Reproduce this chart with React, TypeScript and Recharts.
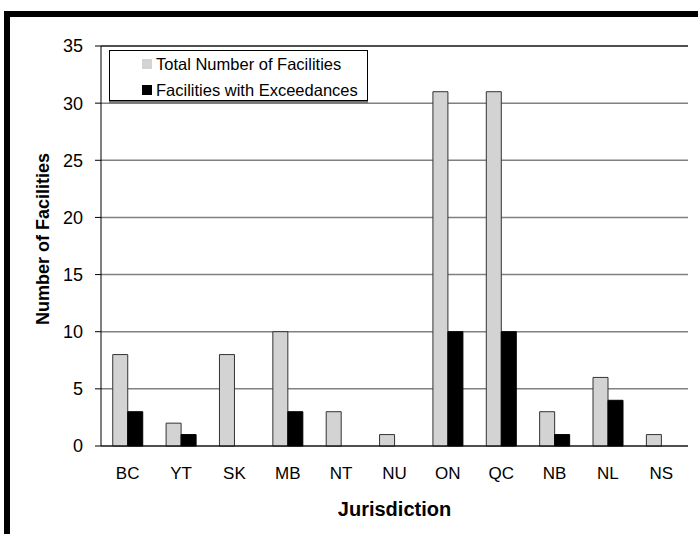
import React from "react";
import {
  BarChart,
  Bar,
  XAxis,
  YAxis,
  CartesianGrid,
  Legend,
  ReferenceLine,
  Label,
} from "recharts";

const jurisdictions = ["BC", "YT", "SK", "MB", "NT", "NU", "ON", "QC", "NB", "NL", "NS"];
const totalFacilities = [8, 2, 8, 10, 3, 1, 31, 31, 3, 6, 1];
const withExceedances = [3, 1, 0, 3, 0, 0, 10, 10, 1, 4, 0];
const yTicks = [0, 5, 10, 15, 20, 25, 30, 35];

const series = [
  { key: "total", name: "Total Number of Facilities", fill: "#d3d3d3", stroke: "#333" },
  { key: "exceed", name: "Facilities with Exceedances", fill: "#000", stroke: "#000" },
];

const data = jurisdictions.map((name, i) => ({
  name,
  total: totalFacilities[i],
  exceed: withExceedances[i],
}));

// tick marks sit between categories, so a hidden numeric axis carries them
const edgeTicks = jurisdictions.map((_, i) => i).concat(jurisdictions.length);

const font = "'Liberation Sans', Arial, sans-serif";

function LegendBox() {
  return (
    <div
      style={{
        width: 259,
        height: 51,
        border: "1px solid #000",
        boxShadow: "0 2px 0 #777",
        background: "#fff",
        fontFamily: font,
        fontSize: 16.5,
        color: "#000",
        boxSizing: "border-box",
        paddingLeft: 32,
        paddingTop: 0,
      }}
    >
      {series.map((s) => (
        <div key={s.key} style={{ display: "flex", alignItems: "center", height: 26 }}>
          <span
            style={{
              display: "inline-block",
              width: 10,
              height: 10,
              background: s.fill,
              marginRight: 4,
            }}
          />
          <span>{s.name}</span>
        </div>
      ))}
    </div>
  );
}

function YTitle({ viewBox }: any) {
  const x = viewBox.x + 43;
  const y = viewBox.y + viewBox.height / 2 - 7;
  return (
    <text
      x={x}
      y={y}
      transform={`rotate(-90 ${x} ${y})`}
      textAnchor="middle"
      dominantBaseline="central"
      fontFamily={font}
      fontWeight="bold"
      fontSize={18}
      fill="#000"
    >
      Number of Facilities
    </text>
  );
}

export default function App() {
  return (
    <div
      style={{
        position: "absolute",
        left: 0,
        top: 0,
        width: 698,
        height: 534,
        overflow: "hidden",
        background: "#fff",
      }}
    >
      <div
        style={{
          position: "absolute",
          left: 4,
          top: 11,
          width: 720,
          height: 540,
          borderTop: "6px solid #000",
          borderLeft: "6px solid #000",
        }}
      />
      <BarChart
        width={698}
        height={534}
        data={data}
        margin={{ top: 46, right: 10, bottom: 0, left: 0 }}
        barCategoryGap="22%"
        barGap={0}
        style={{ position: "absolute", left: 0, top: 0, fontFamily: font }}
      >
        <CartesianGrid vertical={false} stroke="#808080" strokeWidth={1.5} />
        <XAxis
          xAxisId="edges"
          type="number"
          domain={[0, jurisdictions.length]}
          ticks={edgeTicks}
          allowDataOverflow
          height={0}
          axisLine={false}
          tickSize={7}
          tickLine={{ stroke: "#000" }}
          tickFormatter={() => ""}
        />
        <XAxis
          dataKey="name"
          height={88}
          tickLine={false}
          tickSize={0}
          tickMargin={21}
          axisLine={{ stroke: "#000" }}
          tick={{ fill: "#000", fontSize: 17 }}
          interval={0}
        >
          <Label
            value="Jurisdiction"
            position="insideBottom"
            offset={18}
            fill="#000"
            fontWeight="bold"
            fontSize={20}
          />
        </XAxis>
        <YAxis
          width={101}
          domain={[0, 35]}
          ticks={yTicks}
          tickSize={6}
          tickMargin={12}
          axisLine={{ stroke: "#000" }}
          tickLine={{ stroke: "#000" }}
          tick={{ fill: "#000", fontSize: 18 }}
          interval={0}
        >
          <Label content={YTitle} />
        </YAxis>
        <YAxis
          yAxisId="right"
          orientation="right"
          width={0}
          domain={[0, 35]}
          tick={false}
          tickLine={false}
          axisLine={{ stroke: "#000" }}
        />
        <ReferenceLine y={35} stroke="#000" />
        <Legend
          layout="vertical"
          align="center"
          verticalAlign="middle"
          content={() => <LegendBox />}
          wrapperStyle={{ left: 109, top: 50, width: 259 }}
        />
        {series.map((s) => (
          <Bar
            key={s.key}
            dataKey={s.key}
            name={s.name}
            fill={s.fill}
            stroke={s.stroke}
            strokeWidth={1}
            isAnimationActive={false}
          />
        ))}
      </BarChart>
    </div>
  );
}
